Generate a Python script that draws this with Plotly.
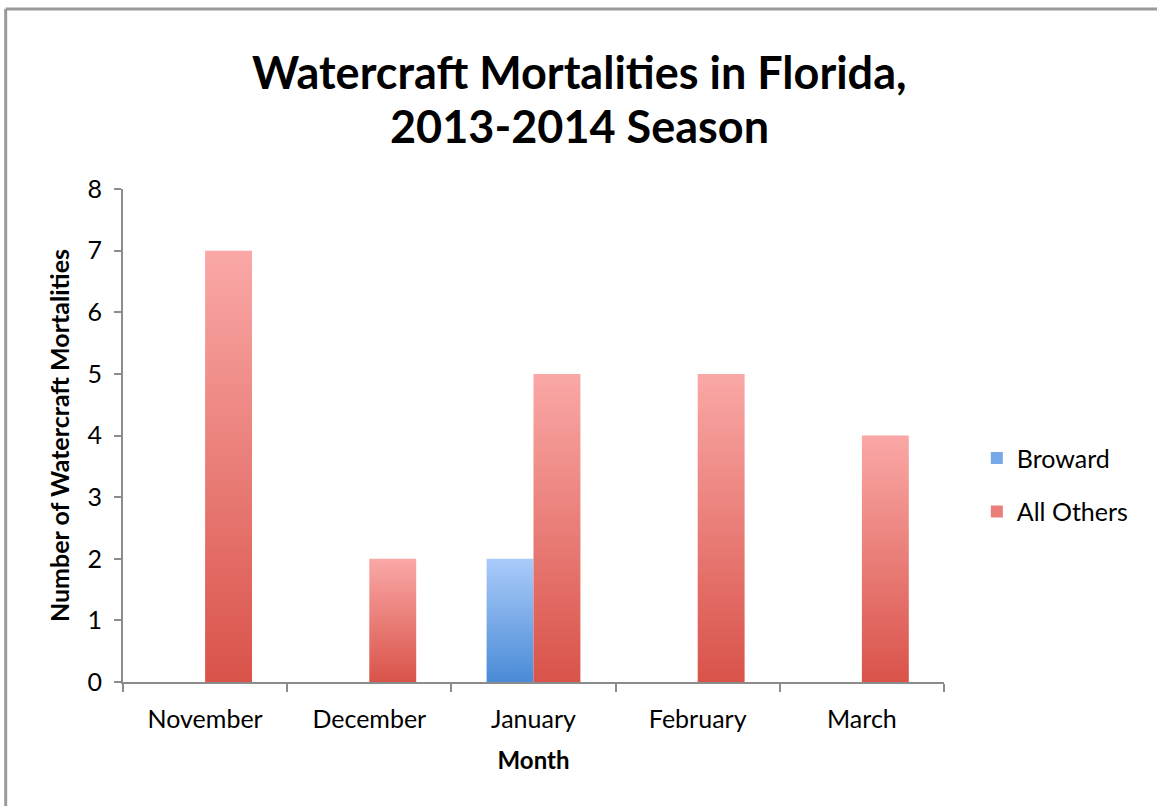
import plotly.graph_objects as go

# Watercraft mortality counts per month, 2013-2014 season
months = ["November", "December", "January", "February", "March"]
broward = [0, 0, 2, 0, 0]
all_others = [7, 2, 5, 5, 4]

series = [
    ("Broward", broward, "#4A8BD6", "#AACBFA", "#77A8E8"),
    ("All Others", all_others, "#D9534A", "#FAA8A6", "#EA7F7A"),
]

# Excel-style clustered columns: gap width 150% -> each bar is 1/3.5 of a category
bar_w = 1 / 3.5
fig = go.Figure()

for s_idx, (name, values, dark, light, mid) in enumerate(series):
    offset = -bar_w + s_idx * bar_w
    for i, v in enumerate(values):
        if v <= 0:
            continue
        x0 = i + offset
        x1 = x0 + bar_w
        fig.add_trace(go.Scatter(
            x=[x0, x0, x1, x1, x0],
            y=[0, v, v, 0, 0],
            mode="none",
            fill="toself",
            fillcolor=dark,
            fillgradient=dict(type="vertical",
                              colorscale=[[0, dark], [1, light]]),
            name=name,
            legendgroup=name,
            showlegend=False,
            hoverinfo="skip",
        ))
    # legend swatch for the series
    fig.add_trace(go.Bar(
        x=[None], y=[None],
        marker=dict(color=mid, line=dict(width=0)),
        name=name,
        legendgroup=name,
        showlegend=True,
    ))

axis_color = "#8C8C8C"
font_family = "Lato"

fig.update_layout(
    width=1157,
    height=806,
    margin=dict(l=123, r=213, t=189, b=124),
    paper_bgcolor="white",
    plot_bgcolor="white",
    font=dict(family=font_family, color="#000000"),
    xaxis=dict(
        range=[-0.5, 4.5],
        tickvals=list(range(len(months))),
        ticktext=months,
        ticks="",
        ticklabelstandoff=14,
        showgrid=False,
        zeroline=False,
        showline=True,
        linecolor=axis_color,
        linewidth=2,
        tickfont=dict(size=25),
        minor=dict(tickvals=[k - 0.5 for k in range(len(months) + 1)],
                   ticks="outside", ticklen=8, tickwidth=2,
                   tickcolor=axis_color, showgrid=False),
        title=dict(text="<b>Month</b>", font=dict(size=24), standoff=20),
        fixedrange=True,
    ),
    yaxis=dict(
        range=[0, 8],
        dtick=1,
        ticks="outside",
        ticklen=7,
        tickwidth=2,
        tickcolor=axis_color,
        ticklabelstandoff=7,
        showgrid=False,
        zeroline=False,
        showline=True,
        linecolor=axis_color,
        linewidth=2,
        tickfont=dict(size=25),
        title=dict(text="<b>Number of Watercraft Mortalities</b>",
                   font=dict(size=25), standoff=11),
        fixedrange=True,
    ),
    legend=dict(
        x=1.04, xanchor="left",
        y=0.40, yanchor="middle",
        font=dict(size=25),
        tracegroupgap=18,
        bgcolor="rgba(0,0,0,0)",
    ),
    showlegend=True,
)

# Two-line chart title
fig.add_annotation(text="<b>Watercraft Mortalities in Florida,</b>",
                   xref="paper", yref="paper", x=0.5555, y=1.237,
                   xanchor="center", yanchor="middle", showarrow=False,
                   font=dict(size=45, family=font_family))
fig.add_annotation(text="<b>2013-2014 Season</b>",
                   xref="paper", yref="paper", x=0.5555, y=1.128,
                   xanchor="center", yanchor="middle", showarrow=False,
                   font=dict(size=45, family=font_family))

# Chart-area border (left and top edges visible)
fig.add_shape(type="line", xref="paper", yref="paper",
              x0=-0.1429, x1=1.4, y0=1.365, y1=1.365,
              line=dict(color="#9A9A9A", width=3))
fig.add_shape(type="line", xref="paper", yref="paper",
              x0=-0.1429, x1=-0.1429, y0=1.365, y1=-0.4,
              line=dict(color="#9A9A9A", width=3))

fig.write_html("out.html")
